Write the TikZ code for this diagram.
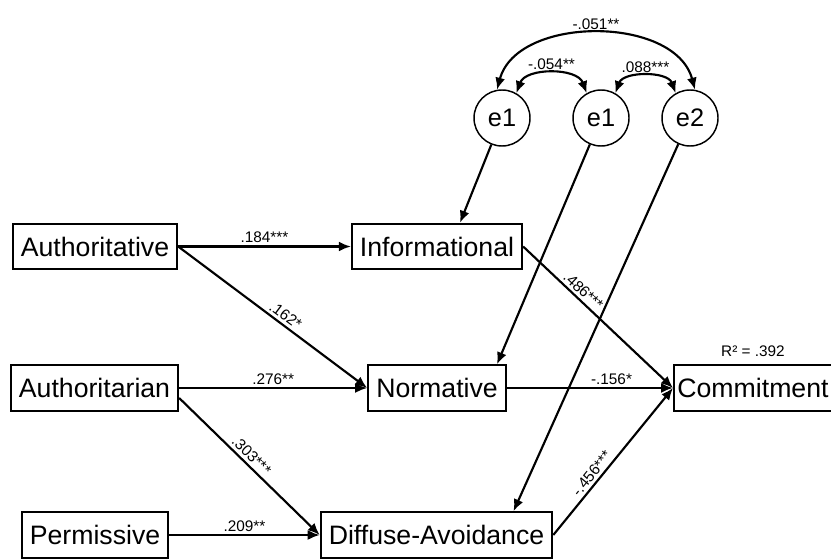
\documentclass[tikz,border=0pt]{standalone}
\usepackage{fontspec}
\setmainfont{Liberation Sans}
\usetikzlibrary{arrows.meta,calc,positioning}

\begin{document}
\begin{tikzpicture}[x=0.75pt,y=0.75pt,>={Latex[length=9pt,width=7.5pt]},line width=1.6pt,
    box/.style={draw,rectangle,line width=1.6pt,font=\fontsize{20}{22}\selectfont,
      minimum height=34pt,inner xsep=6pt,inner ysep=0pt},
    err/.style={draw,circle,line width=1.1pt,minimum size=42pt,inner sep=0pt,
      font=\fontsize{19}{21}\selectfont},
    coef/.style={font=\fontsize{11.5}{13}\selectfont,inner sep=2pt}]
  \useasboundingbox (0,0) rectangle (831,558);
  % styles of parenting
  \node[box] (auth) at (95,311.5) {Authoritative};
  \node[box] (authn) at (94.5,170) {Authoritarian};
  \node[box] (perm) at (95,23) {Permissive};
  % identity styles
  \node[box] (info) at (437,311.5) {Informational};
  \node[box] (norm) at (437,170) {Normative};
  \node[box] (diff) at (436.5,23) {Diffuse-Avoidance};
  % outcome
  \node[box,anchor=west,inner xsep=2.5pt] (commit) at (673,170) {Commitment};
  \node[coef,above=3pt of commit] (rsq) {R² = .392};
  % residuals
  \node[err] (e1a) at (502,440) {e1};
  \node[err] (e1b) at (601,440) {e1};
  \node[err] (e2) at (690,440) {e2};

  \draw[->] (auth) -- node[coef,above]{.184***} (info);
  \draw[->] (auth.east) -- node[coef,sloped,above,pos=0.54]{.162*} (norm.west);
  \draw[->] (authn) -- node[coef,above]{.276**} (norm);
  \draw[->] ($(authn.east)+(0,-10)$) -- node[coef,sloped,above,pos=0.47]{.303***} (diff.west);
  \draw[->] (perm) -- node[coef,above]{.209**} (diff);

  \draw[->] (info.east) -- node[coef,sloped,above,pos=0.36]{.486***} (commit.west);
  \draw[->] (norm) -- node[coef,above,pos=0.63]{-.156*} (commit);
  \draw[->] (diff.east) -- node[coef,sloped,above,pos=0.38]{-.456***} (commit.west);

  \draw[->] (e1a) -- ($(info.north)+(23,0)$);
  \draw[->] (e1b) -- ($(norm.north)+(60,0)$);
  \draw[->] (e2) -- ($(diff.north)+(77,0)$);

  \draw[<->] (e1a.60) to[out=70,in=110] node[coef,above]{-.054**} (e1b.120);
  \draw[<->] (e1b.60) to[out=70,in=110] node[coef,above]{.088***} (e2.120);
  \draw[<->] (e1a.100) to[out=75,in=105] node[coef,above]{-.051**} (e2.80);
\end{tikzpicture}
\end{document}
